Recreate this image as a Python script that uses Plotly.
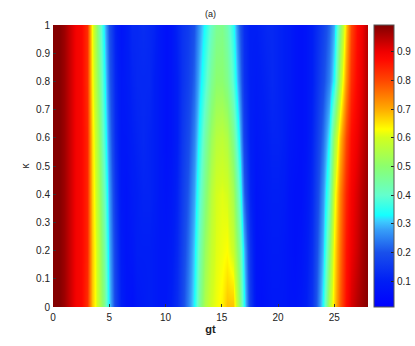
import plotly.graph_objects as go

# gt sampled every 0.5 from 0 to 28
gt = [i * 0.5 for i in range(57)]
kappa = [0.0, 0.2, 0.4, 0.6, 0.8, 1.0]

row_k00 = [0.99, 0.99, 0.97, 0.93, 0.89, 0.88, 0.83, 0.68, 0.58, 0.47, 0.32, 0.18, 0.10, 0.07, 0.06, 0.08, 0.09, 0.10, 0.09, 0.08,
           0.08, 0.10, 0.13, 0.18, 0.25, 0.33, 0.45, 0.55, 0.60, 0.62, 0.64, 0.68, 0.68, 0.52, 0.34, 0.16, 0.07, 0.06, 0.07, 0.08,
           0.08, 0.08, 0.07, 0.07, 0.08, 0.10, 0.14, 0.22, 0.34, 0.55, 0.66, 0.78, 0.87, 0.92, 0.95, 0.97, 0.99]
row_k02 = [0.99, 0.99, 0.97, 0.93, 0.89, 0.88, 0.84, 0.68, 0.57, 0.45, 0.30, 0.17, 0.09, 0.07, 0.08, 0.10, 0.10, 0.10, 0.09, 0.08,
           0.08, 0.09, 0.12, 0.17, 0.23, 0.31, 0.42, 0.52, 0.58, 0.61, 0.62, 0.63, 0.59, 0.47, 0.30, 0.14, 0.07, 0.07, 0.08, 0.09,
           0.09, 0.08, 0.07, 0.06, 0.07, 0.09, 0.13, 0.20, 0.30, 0.48, 0.64, 0.76, 0.86, 0.90, 0.93, 0.96, 0.99]
row_k04 = [0.99, 0.99, 0.97, 0.93, 0.89, 0.88, 0.84, 0.67, 0.55, 0.42, 0.28, 0.15, 0.08, 0.07, 0.09, 0.10, 0.11, 0.11, 0.10, 0.08,
           0.07, 0.08, 0.11, 0.16, 0.21, 0.28, 0.38, 0.48, 0.56, 0.60, 0.61, 0.60, 0.54, 0.40, 0.22, 0.11, 0.07, 0.08, 0.09, 0.10,
           0.10, 0.09, 0.07, 0.06, 0.06, 0.08, 0.12, 0.18, 0.27, 0.40, 0.60, 0.74, 0.84, 0.89, 0.92, 0.95, 0.98]
row_k06 = [0.99, 0.99, 0.97, 0.93, 0.89, 0.88, 0.84, 0.66, 0.53, 0.38, 0.25, 0.13, 0.08, 0.08, 0.10, 0.11, 0.12, 0.11, 0.10, 0.08,
           0.06, 0.07, 0.10, 0.15, 0.19, 0.25, 0.34, 0.44, 0.52, 0.56, 0.57, 0.55, 0.47, 0.33, 0.17, 0.10, 0.08, 0.09, 0.10, 0.11,
           0.11, 0.10, 0.08, 0.07, 0.06, 0.07, 0.11, 0.16, 0.23, 0.33, 0.52, 0.68, 0.80, 0.87, 0.90, 0.93, 0.97]
row_k08 = [0.99, 0.99, 0.97, 0.93, 0.89, 0.88, 0.83, 0.64, 0.50, 0.35, 0.22, 0.12, 0.08, 0.09, 0.11, 0.12, 0.12, 0.12, 0.10, 0.08,
           0.06, 0.07, 0.10, 0.14, 0.17, 0.22, 0.30, 0.38, 0.46, 0.50, 0.50, 0.47, 0.39, 0.26, 0.14, 0.10, 0.09, 0.10, 0.11, 0.12,
           0.11, 0.10, 0.09, 0.07, 0.06, 0.07, 0.10, 0.14, 0.19, 0.25, 0.34, 0.56, 0.72, 0.83, 0.88, 0.91, 0.96]
row_k10 = [0.99, 0.99, 0.97, 0.93, 0.89, 0.88, 0.83, 0.63, 0.47, 0.32, 0.20, 0.11, 0.07, 0.09, 0.12, 0.12, 0.13, 0.12, 0.11, 0.08,
           0.06, 0.07, 0.11, 0.14, 0.16, 0.20, 0.27, 0.34, 0.41, 0.46, 0.47, 0.43, 0.35, 0.22, 0.13, 0.10, 0.10, 0.11, 0.12, 0.12,
           0.11, 0.10, 0.09, 0.07, 0.06, 0.07, 0.10, 0.13, 0.17, 0.22, 0.29, 0.48, 0.67, 0.80, 0.87, 0.90, 0.95]

cbar_ticks = [0.1, 0.2, 0.3, 0.4, 0.5, 0.6, 0.7, 0.8, 0.9]
x_ticks = [0, 5, 10, 15, 20, 25]
y_ticks = [0, 0.1, 0.2, 0.3, 0.4, 0.5, 0.6, 0.7, 0.8, 0.9, 1]

zmin, zmax = 0.01, 0.993

# colour stops (value, colour)
stops = [
    (0.01, 'rgb(0,0,255)'),
    (0.10, 'rgb(0,30,245)'),
    (0.20, 'rgb(25,80,235)'),
    (0.28, 'rgb(55,160,248)'),
    (0.31, 'rgb(60,205,255)'),
    (0.33, 'rgb(20,255,255)'),
    (0.40, 'rgb(100,255,205)'),
    (0.50, 'rgb(140,255,110)'),
    (0.60, 'rgb(210,255,30)'),
    (0.63, 'rgb(255,255,0)'),
    (0.70, 'rgb(255,170,0)'),
    (0.80, 'rgb(255,70,0)'),
    (0.87, 'rgb(255,10,0)'),
    (0.90, 'rgb(240,0,0)'),
    (0.95, 'rgb(180,0,0)'),
    (0.993, 'rgb(128,0,0)'),
]
colorscale = [[(v - zmin) / (zmax - zmin), c] for v, c in stops]

font = 'Liberation Sans, Arial, sans-serif'

fig = go.Figure(go.Heatmap(
    x=gt,
    y=kappa,
    z=[row_k00, row_k02, row_k04, row_k06, row_k08, row_k10],
    zmin=zmin,
    zmax=zmax,
    zsmooth='best',
    colorscale=colorscale,
    colorbar=dict(
        x=1.019, xanchor='left', xpad=0,
        y=0.5, len=1, lenmode='fraction', ypad=0,
        thickness=20,
        outlinewidth=1, outlinecolor='#555',
        tickvals=cbar_ticks,
        ticks='inside', ticklen=3, tickcolor='#222',
        tickfont=dict(size=10, color='#222', family=font),
    ),
))

fig.update_layout(
    width=415,
    height=346,
    margin=dict(l=53, r=47, t=25, b=39, autoexpand=False),
    plot_bgcolor='white',
    paper_bgcolor='white',
    font=dict(family=font, size=10, color='#222'),
    title=dict(text='(a)', x=0.5, xref='paper', xanchor='center',
               y=1 - 14 / 346, yref='container', yanchor='middle',
               font=dict(size=9, family=font)),
)

fig.update_xaxes(
    range=[0, 28], tickvals=x_ticks, showgrid=False, zeroline=False,
    ticks='inside', ticklen=3, tickcolor='#333',
    tickfont=dict(size=10), ticklabelstandoff=3,
    title=dict(text='<b>gt</b>', font=dict(size=11), standoff=3),
)
fig.update_yaxes(
    range=[0, 1], tickvals=y_ticks, showgrid=False, zeroline=False,
    ticks='inside', ticklen=3, tickcolor='#333',
    tickfont=dict(size=10), ticklabelstandoff=2,
    title=dict(text='κ', font=dict(size=10), standoff=4),
)

# drop the page's default body margin so the figure sits at the window's corner
fig.write_html("out.html", config={'displayModeBar': False},
               post_script="document.body.style.margin='0';")
